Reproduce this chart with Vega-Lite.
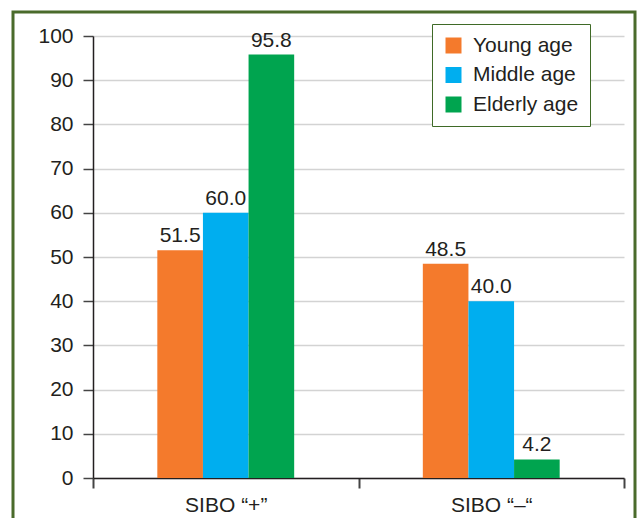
{
  "$schema": "https://vega.github.io/schema/vega-lite/v6.json",
  "width": 622,
  "height": 509,
  "autosize": "none",
  "padding": {"left": 13, "top": 12, "right": 5, "bottom": 0},
  "background": "white",
  "config": {
    "view": {"stroke": "#4a6b2b", "strokeWidth": 3, "fill": "white"},
    "font": "Liberation Sans"
  },
  "data": {
    "values": [
      {"group": "SIBO \u201c+\u201d", "age": "Young age", "value": 51.5},
      {"group": "SIBO \u201c+\u201d", "age": "Middle age", "value": 60.0},
      {"group": "SIBO \u201c+\u201d", "age": "Elderly age", "value": 95.8},
      {"group": "SIBO \u201c\u2013\u201c", "age": "Young age", "value": 48.5},
      {"group": "SIBO \u201c\u2013\u201c", "age": "Middle age", "value": 40.0},
      {"group": "SIBO \u201c\u2013\u201c", "age": "Elderly age", "value": 4.2}
    ]
  },
  "encoding": {
    "x": {
      "field": "group",
      "type": "nominal",
      "sort": null,
      "scale": {"range": [80, 611], "paddingInner": 0, "paddingOuter": 0},
      "axis": {
        "title": null,
        "labelAngle": 0,
        "tickBand": "extent",
        "tickSize": 10,
        "labelPadding": 6,
        "labelFontSize": 21,
        "labelColor": "#231f20",
        "offset": -43,
        "domainColor": "#231f20",
        "domainWidth": 1.5,
        "tickColor": "#444444",
        "tickWidth": 2,
        "grid": false
      }
    },
    "xOffset": {
      "field": "age",
      "type": "nominal",
      "scale": {"domain": ["pad-left", "Young age", "Middle age", "Elderly age", "pad-right"], "paddingInner": 0, "paddingOuter": 0.41}
    },
    "y": {
      "field": "value",
      "type": "quantitative",
      "scale": {"domain": [0, 100], "range": [466, 24], "nice": false},
      "axis": {
        "title": null,
        "values": [0, 10, 20, 30, 40, 50, 60, 70, 80, 90, 100],
        "tickSize": 10,
        "labelPadding": 10,
        "labelFontSize": 21,
        "labelColor": "#231f20",
        "domainColor": "#231f20",
        "domainWidth": 1.5,
        "tickColor": "#444444",
        "tickWidth": 1.5,
        "grid": true,
        "gridColor": "#d3d3d3",
        "gridWidth": 1.5,
        "offset": -80
      }
    }
  },
  "layer": [
    {
      "mark": {"type": "bar"},
      "encoding": {
        "color": {
          "field": "age",
          "type": "nominal",
          "scale": {"domain": ["Young age", "Middle age", "Elderly age"], "range": ["#f47a2c", "#00aeef", "#00a44f"]},
          "legend": {
            "title": null,
            "orient": "none",
            "legendX": 419,
            "legendY": 12,
            "fillColor": "white",
            "strokeColor": "#3f6a27",
            "padding": 11,
            "symbolType": "square",
            "symbolSize": 256,
            "symbolStrokeWidth": 0,
            "labelFontSize": 21,
            "labelColor": "#231f20",
            "rowPadding": 7.5,
            "labelOffset": 9
          }
        }
      }
    },
    {
      "mark": {"type": "text", "dy": -8, "baseline": "alphabetic", "fontSize": 21, "color": "#231f20"},
      "encoding": {"text": {"field": "value", "type": "quantitative", "format": ".1f"}}
    }
  ]
}
